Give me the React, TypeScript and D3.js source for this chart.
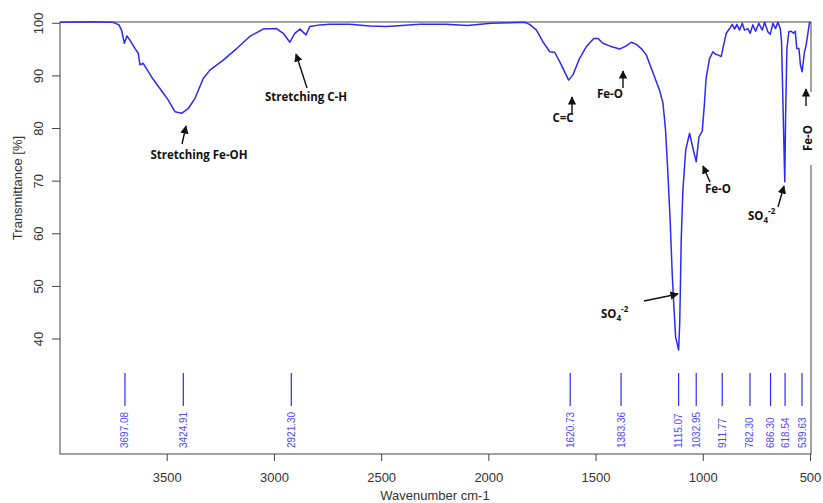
import React from 'react';
import * as d3 from 'd3';

// spectrum (wavenumber cm-1, transmittance %)
const wavenumbers = [4000, 3850, 3753, 3725, 3712, 3700, 3688, 3674, 3650, 3635, 3627, 3612, 3573, 3534, 3495, 3464, 3433, 3402, 3371, 3332, 3301, 3239, 3176, 3115, 3053, 2990, 2959, 2928, 2905, 2881, 2853, 2835, 2788, 2742, 2650, 2555, 2480, 2439, 2322, 2200, 2100, 1990, 1900, 1833, 1810, 1778, 1748, 1716, 1693, 1662, 1628, 1608, 1577, 1545, 1511, 1491, 1468, 1437, 1390, 1359, 1336, 1312, 1289, 1266, 1242, 1219, 1204, 1188, 1176, 1165, 1154, 1145, 1137, 1129, 1115, 1110, 1107, 1103, 1095, 1082, 1064, 1048, 1033, 1020, 1005, 995, 987, 971, 955, 943, 932, 916, 905, 893, 877, 865, 854, 843, 831, 818, 808, 792, 781, 769, 756, 741, 725, 714, 699, 688, 675, 663, 652, 641, 635, 629, 620, 616, 610, 601, 590, 579, 571, 564, 554, 547, 539, 528, 520, 511, 504];
const transmittance = [100.2, 100.3, 100.2, 99.7, 98.6, 96.2, 97.6, 96.8, 95.2, 94.3, 92.1, 92.4, 89.8, 87.6, 85.4, 83.2, 82.9, 83.8, 85.7, 89.5, 91.1, 93.0, 95.2, 97.5, 98.9, 99.0, 98.1, 96.4, 98.1, 98.9, 97.8, 99.4, 99.7, 99.8, 99.8, 99.5, 99.4, 99.5, 99.8, 99.8, 99.6, 100.0, 100.1, 100.2, 99.8, 98.7, 96.5, 94.6, 94.5, 92.1, 89.2, 90.2, 93.3, 95.6, 97.1, 97.1, 96.2, 95.7, 95.1, 95.7, 96.4, 96.0, 95.2, 94.0, 91.4, 88.9, 87.3, 84.8, 79.7, 71.5, 62.0, 52.5, 46.1, 40.4, 37.9, 43.0, 49.3, 58.8, 68.3, 75.9, 79.1, 76.2, 73.7, 78.4, 79.5, 84.5, 89.5, 93.3, 94.6, 94.1, 94.0, 93.7, 95.9, 98.1, 99.0, 99.8, 98.9, 99.8, 98.7, 100.0, 98.7, 99.0, 98.1, 99.7, 98.5, 100.0, 98.7, 100.2, 98.4, 97.9, 100.0, 99.0, 100.2, 99.0, 96.5, 85.7, 69.9, 82.6, 95.2, 98.4, 98.5, 98.1, 98.5, 95.2, 95.2, 92.1, 90.8, 94.6, 95.9, 98.4, 100.3];

const peaks = [3697.08, 3424.91, 2921.30, 1620.73, 1383.36, 1115.07, 1032.95, 911.77, 782.30, 686.30, 618.54, 539.63];
const xTicks = [3500, 3000, 2500, 2000, 1500, 1000, 500];
const yTicks = [40, 50, 60, 70, 80, 90, 100];

const W = 823, H = 503;
const left = 60, right = 811, top = 22, bottom = 454;
const axisFont = '"Liberation Sans", Arial, sans-serif';
const noteFont = '"Open Sans", "Noto Sans", sans-serif';

const x = d3.scaleLinear().domain([4000, 500]).range([left, right - 0.5]);
const y = d3.scaleLinear().domain([40, 100]).range([339, 23.3]);

const Note = ({ tx, ty, children, anchor = 'middle' }: any) => (
  <text x={tx} y={ty} textAnchor={anchor} fontFamily={noteFont} fontWeight={700} fontSize={11.5} fill="#111">{children}</text>
);

const Arrow = ({ x1, y1, x2, y2 }: any) => (
  <line x1={x1} y1={y1} x2={x2} y2={y2} stroke="#111" strokeWidth={1.4} markerEnd="url(#head)" />
);

const SO4 = ({ tx, ty }: any) => (
  <text x={tx} y={ty} fontFamily={noteFont} fontWeight={700} fontSize={11.5} fill="#111">
    SO<tspan fontSize={8} dy={3}>4</tspan><tspan fontSize={8} dy={-9}>-2</tspan>
  </text>
);

export default function App() {
  const pts = wavenumbers.map((w, i) => [w, transmittance[i]] as [number, number]);
  const line = d3.line<[number, number]>().x(d => x(d[0])).y(d => y(d[1]));

  return (
    <svg width={W} height={H} style={{ position: 'absolute', left: 0, top: 0, background: '#fff' }}>
      <defs>
        <marker id="head" viewBox="0 0 10 10" refX="9" refY="5" markerWidth="6" markerHeight="6" orient="auto">
          <path d="M0,0 L10,5 L0,10 z" fill="#111" />
        </marker>
      </defs>

      {/* frame */}
      <rect x={left} y={top} width={right - left} height={bottom - top} fill="none" stroke="#444" strokeWidth={1} />

      {/* spectrum */}
      <path d={line(pts) ?? ''} fill="none" stroke="#2b2bf5" strokeWidth={1.5} strokeLinejoin="round" />

      {/* y axis */}
      {yTicks.map(t => (
        <g key={t}>
          <line x1={left - 8} x2={left} y1={y(t)} y2={y(t)} stroke="#444" />
          <text transform={`translate(${left - 17},${y(t)}) rotate(-90)`} textAnchor="middle" fontFamily={axisFont} fontSize={13} fill="#333">{t}</text>
        </g>
      ))}
      <text transform={`translate(22,188) rotate(-90)`} textAnchor="middle" fontFamily={axisFont} fontSize={13} fill="#333">Transmittance [%]</text>

      {/* x axis */}
      {xTicks.map(t => (
        <g key={t}>
          <line x1={x(t)} x2={x(t)} y1={bottom} y2={bottom + 7} stroke="#444" />
          <text x={x(t)} y={bottom + 28} textAnchor="middle" fontFamily={axisFont} fontSize={13} fill="#333">{t}</text>
        </g>
      ))}
      <text x={435} y={500} textAnchor="middle" fontFamily={axisFont} fontSize={13} fill="#333">Wavenumber cm-1</text>

      {/* peak markers */}
      {peaks.map(p => (
        <g key={p}>
          <line x1={x(p)} x2={x(p)} y1={373} y2={406} stroke="#2b2bf5" strokeWidth={1.2} />
          <text transform={`translate(${x(p)},448) rotate(-90)`} dy="0.35em" fontFamily={axisFont} fontSize={10} fill="#4a4aff">{p.toFixed(2)}</text>
        </g>
      ))}

      {/* annotations */}
      <Note tx={199} ty={159}>Stretching Fe-OH</Note>
      <Arrow x1={182} y1={144} x2={186} y2={126} />
      <Note tx={306} ty={101}>Stretching C-H</Note>
      <Arrow x1={307} y1={88} x2={296} y2={54} />
      <Note tx={563} ty={122}>C=C</Note>
      <Arrow x1={572} y1={114} x2={572} y2={97} />
      <Note tx={610} ty={98}>Fe-O</Note>
      <Arrow x1={623} y1={88} x2={623} y2={71} />
      <Note tx={718} ty={193}>Fe-O</Note>
      <Arrow x1={710} y1={182} x2={703} y2={166} />
      <SO4 tx={748} ty={220} />
      <Arrow x1={778} y1={207} x2={784} y2={186} />
      <SO4 tx={601} ty={318} />
      <Arrow x1={644} y1={301} x2={678} y2={294} />

      {/* vertical Fe-O at right edge, covering the frame */}
      <rect x={800} y={92} width={18} height={73} fill="#fff" />
      <text transform={`translate(812,138) rotate(-90)`} textAnchor="middle" fontFamily={noteFont} fontWeight={700} fontSize={11.5} fill="#111">Fe-O</text>
      <Arrow x1={806} y1={106} x2={806} y2={89} />
    </svg>
  );
}
